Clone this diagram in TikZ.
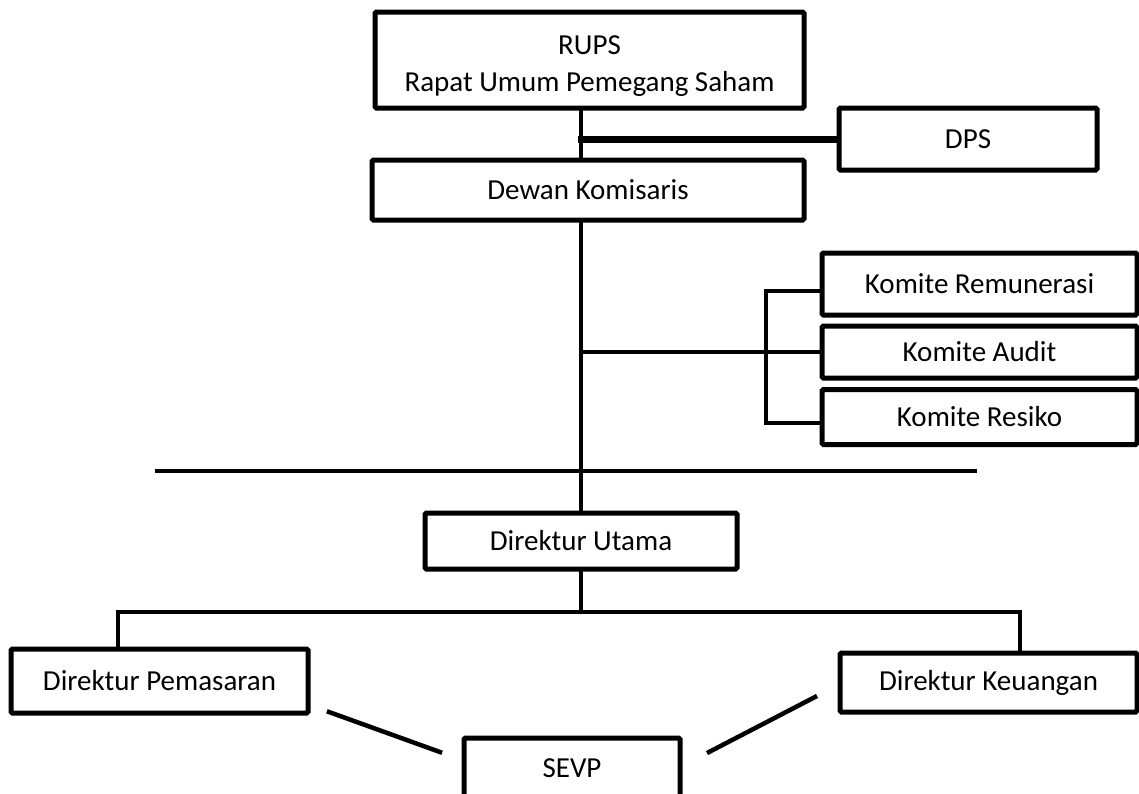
\documentclass[tikz,border=0pt]{standalone}
\usepackage{fontspec}
\setmainfont{Carlito}
\usepackage{tikz}
\usetikzlibrary{calc}

\begin{document}
\begin{tikzpicture}[x=1pt, y=-1pt, every node/.style={font=\fontsize{29}{37}\selectfont}]
	\tikzstyle{box} = [rectangle, draw=black, line width=5pt, fill=white, text centered, inner sep=0pt, rounded corners=1.5pt]
	\tikzstyle{line} = [draw, line width=4.5pt, line cap=rect]
	\useasboundingbox (0,0) rectangle (1139,793);
	\clip (0,0) rectangle (1139,793);
	\fill[white] (0,0) rectangle (1139,793);
	% top
	\node [box, align=center, minimum width=429pt, minimum height=96pt] (rups) at (589.5,60) {\rule{0pt}{31pt}RUPS\\Rapat Umum Pemegang Saham};
	\node [box, minimum width=258pt, minimum height=62pt] (dps) at (968,139) {DPS};
	\node [box, minimum width=432pt, minimum height=60pt] (dewan) at (588,190) {Dewan Komisaris};
	% komite
	\node [box, minimum width=315pt, minimum height=62pt] (remunerasi) at (979.5,284) {Komite Remunerasi};
	\node [box, minimum width=315pt, minimum height=52pt] (audit) at (979.5,352) {Komite Audit};
	\node [box, minimum width=315pt, minimum height=55pt] (resiko) at (979.5,417) {Komite Resiko};
	% direksi
	\node [box, minimum width=312pt, minimum height=56pt] (utama) at (581,541) {Direktur Utama};
	\node [box, minimum width=297pt, minimum height=64pt] (pemasaran) at (159.5,681) {Direktur Pemasaran\hspace{14pt}};
	\node [box, minimum width=297pt, minimum height=59pt] (keuangan) at (988.5,682.5) {Direktur Keuangan};
	\node [box, minimum width=216pt, minimum height=60pt] (sevp) at (572,768) {SEVP};
	% helper points
	\coordinate (spine) at (581,0);
	\coordinate (bracket) at (766,0);
	\coordinate (divL) at (157,471);
	\coordinate (divR) at (975,471);
	\coordinate (barL) at (118,612);
	\coordinate (barR) at (1020,612);
	\coordinate (pemA) at (329,712);
	\coordinate (pemB) at (440,752);
	\coordinate (keuA) at (815,697);
	\coordinate (keuB) at (709,752);
	\tikzstyle{every path}=[line]
	\path (rups.south -| spine) -- (dewan.north -| spine);
	\path [line width=7pt] (spine |- dps.west) -- (dps.west);
	\path (dewan.south -| spine) -- (utama.north -| spine);
	\path (spine |- audit.west) -- (audit.west);
	\path ([yshift=-7pt]remunerasi.west) -- ([yshift=-7pt]remunerasi.west -| bracket) -- ([yshift=-6pt]resiko.west -| bracket) -- ([yshift=-6pt]resiko.west);
	\path (divL) -- (divR);
	\path (utama.south) -- (utama.south |- barL);
	\path (pemasaran.north -| barL) -- (barL) -- (barR) -- (keuangan.north -| barR);
	\path (pemA) -- (pemB);
	\path (keuA) -- (keuB);
\end{tikzpicture}
\end{document}
